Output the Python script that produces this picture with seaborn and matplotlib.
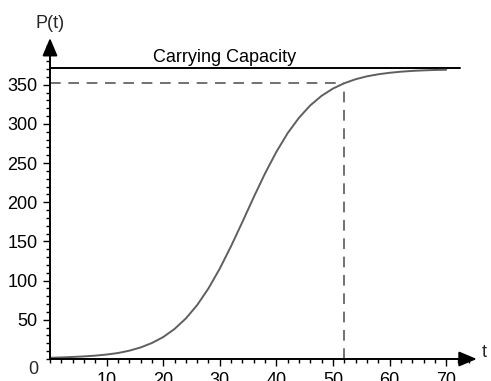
import matplotlib
matplotlib.use("Agg")
import matplotlib.pyplot as plt
from matplotlib.ticker import MultipleLocator
import pandas as pd
import seaborn as sns

# Population P(t) of a logistic growth model
t_values = [0, 2, 4, 6, 8, 10, 12, 14, 16, 18, 20, 22, 24, 26, 28, 30, 32, 34,
            36, 38, 40, 42, 44, 46, 48, 50, 52, 54, 56, 58, 60, 62, 64, 66, 68, 70]
p_values = [1.5, 2.0, 2.6, 3.3, 4.3, 5.7, 7.6, 10.6, 14.7, 20.4, 28.0, 38.3,
            51.7, 68.8, 90.1, 115.4, 144.1, 175.0, 206.6, 236.9, 264.4, 288.3,
            307.9, 323.7, 335.9, 345.1, 351.9, 357.0, 360.7, 363.3, 365.2,
            366.6, 367.6, 368.3, 368.8, 369.1]

carrying_capacity = 371
marked_t = 52
marked_p = 351.9

x_ticks = [10, 20, 30, 40, 50, 60, 70]
y_ticks = [50, 100, 150, 200, 250, 300, 350]

df = pd.DataFrame({"t": t_values, "P": p_values})

sns.set_theme(style="white")
plt.rcParams["font.family"] = ["Liberation Sans", "DejaVu Sans"]

fig = plt.figure(figsize=(4.91, 3.81), dpi=100)
ax = fig.add_axes([50 / 491, 22 / 381, 430 / 491, 321 / 381])
ax.set_xlim(0, 430 / 5.66)
ax.set_ylim(0, 321 / 0.7837)
ax.patch.set_alpha(0)
for s in ax.spines.values():
    s.set_visible(False)

# logistic curve
sns.lineplot(data=df, x="t", y="P", ax=ax, color="#5f5f5f", linewidth=1.4,
             zorder=3, clip_on=False)

# carrying capacity line
ax.plot([0, 72.4], [carrying_capacity, carrying_capacity], color="black",
        linewidth=1.4, clip_on=False)
ax.text(30.8, carrying_capacity + 3, "Carrying Capacity", fontsize=13,
        ha="center", va="bottom", color="black")

# dashed guides to the marked point
ax.plot([0, marked_t], [marked_p, marked_p], color="#4a4a4a", linewidth=1.1,
        dashes=(7, 5))
ax.plot([marked_t, marked_t], [0, marked_p], color="#4a4a4a", linewidth=1.1,
        dashes=(7, 5))

# axes with arrowheads
arrow = dict(arrowstyle="-|>,head_length=0.9,head_width=0.38", color="black",
             linewidth=1.4, shrinkA=0, shrinkB=0)
ax.annotate("", xy=(75.4, 0), xytext=(0, 0), arrowprops=arrow,
            annotation_clip=False)
ax.annotate("", xy=(0, 409.6), xytext=(0, 0), arrowprops=arrow,
            annotation_clip=False)

ax.text(76.3, 8, "t", fontsize=13, ha="left", va="center")
ax.text(0.0, 428, "P(t)", fontsize=13, ha="center", va="center")
ax.text(-2.0, -13, "0", fontsize=13, ha="right", va="center")

# ticks
ax.set_xticks(x_ticks)
ax.set_yticks(y_ticks)
ax.xaxis.set_minor_locator(MultipleLocator(2))
ax.yaxis.set_minor_locator(MultipleLocator(10))
ax.tick_params(axis="both", which="major", length=5, width=1, color="black",
               labelsize=13, labelcolor="black", direction="out")
ax.tick_params(axis="x", which="major", pad=4.5)
ax.tick_params(axis="y", which="major", pad=4)
ax.tick_params(axis="both", which="minor", length=3, width=1, color="black",
               direction="out")
ax.tick_params(bottom=True, left=True, which="both")
ax.set_xlabel("")
ax.set_ylabel("")

fig.savefig("out.png", dpi=100)
